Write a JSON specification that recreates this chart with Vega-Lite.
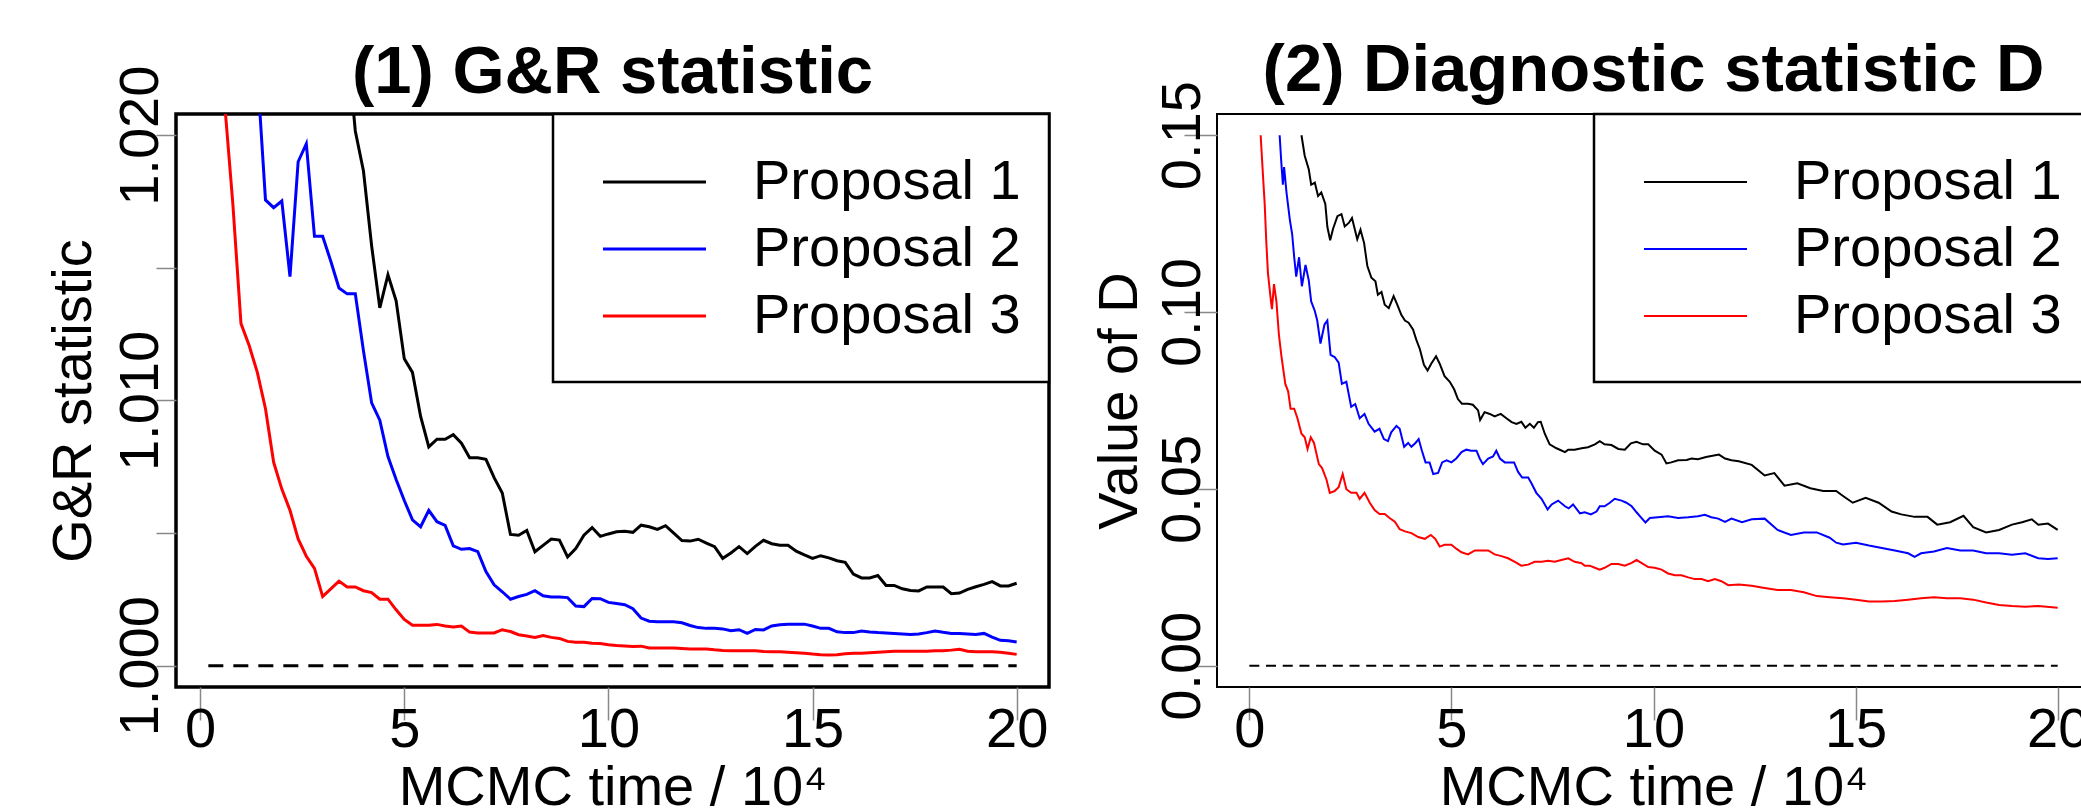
{
  "$schema": "https://vega.github.io/schema/vega-lite/v6.json",
  "background": "white",
  "autosize": {"type": "pad"},
  "padding": {"left": 43, "top": 35, "right": 0, "bottom": 0},
  "bounds": "flush",
  "spacing": 168,
  "config": {
    "font": "Liberation Sans",
    "axis": {
      "labelFont": "Liberation Sans", "titleFont": "Liberation Sans",
      "labelFontSize": 56, "titleFontSize": 56, "labelColor": "black", "titleColor": "black",
      "titleFontWeight": "normal", "grid": false, "domain": false,
      "tickColor": "#888888", "tickWidth": 1.5,
      "labelFlush": false, "labelOverlap": false, "labelBound": false
    },
    "legend": {"strokeWidth": 2.5},
    "title": {"font": "Liberation Sans", "fontSize": 67, "fontWeight": "bold", "color": "black", "anchor": "middle", "frame": "group", "baseline": "alphabetic"}
  },
  "datasets": {
    "refL": [{"t0": 0.2, "t1": 20, "v": 1.0}],
    "refR": [{"t0": 0, "t1": 20, "v": 0}],
    "gr": [
      {"s":"Proposal 1","t":3.6,"v":1.0235},{"s":"Proposal 1","t":3.8,"v":1.02016},{"s":"Proposal 1","t":4.0,"v":1.01865},{"s":"Proposal 1","t":4.2,"v":1.01583},{"s":"Proposal 1","t":4.4,"v":1.01349},{"s":"Proposal 1","t":4.6,"v":1.01474},{"s":"Proposal 1","t":4.8,"v":1.01376},{"s":"Proposal 1","t":5.0,"v":1.01157},{"s":"Proposal 1","t":5.2,"v":1.01106},{"s":"Proposal 1","t":5.4,"v":1.0094},{"s":"Proposal 1","t":5.6,"v":1.00825},{"s":"Proposal 1","t":5.8,"v":1.00854},{"s":"Proposal 1","t":6.0,"v":1.00854},{"s":"Proposal 1","t":6.2,"v":1.00871},{"s":"Proposal 1","t":6.4,"v":1.00839},{"s":"Proposal 1","t":6.6,"v":1.00784},{"s":"Proposal 1","t":6.8,"v":1.00784},{"s":"Proposal 1","t":7.0,"v":1.00778},{"s":"Proposal 1","t":7.2,"v":1.00709},{"s":"Proposal 1","t":7.4,"v":1.00651},{"s":"Proposal 1","t":7.6,"v":1.00495},{"s":"Proposal 1","t":7.8,"v":1.00492},{"s":"Proposal 1","t":8.0,"v":1.0051},{"s":"Proposal 1","t":8.2,"v":1.0043},{"s":"Proposal 1","t":8.4,"v":1.00454},{"s":"Proposal 1","t":8.6,"v":1.00478},{"s":"Proposal 1","t":8.8,"v":1.00474},{"s":"Proposal 1","t":9.0,"v":1.0041},{"s":"Proposal 1","t":9.2,"v":1.00442},{"s":"Proposal 1","t":9.4,"v":1.00492},{"s":"Proposal 1","t":9.6,"v":1.00521},{"s":"Proposal 1","t":9.8,"v":1.00488},{"s":"Proposal 1","t":10.0,"v":1.00497},{"s":"Proposal 1","t":10.2,"v":1.00505},{"s":"Proposal 1","t":10.4,"v":1.00507},{"s":"Proposal 1","t":10.6,"v":1.00503},{"s":"Proposal 1","t":10.8,"v":1.0053},{"s":"Proposal 1","t":11.0,"v":1.00524},{"s":"Proposal 1","t":11.2,"v":1.00514},{"s":"Proposal 1","t":11.4,"v":1.00528},{"s":"Proposal 1","t":11.6,"v":1.005},{"s":"Proposal 1","t":11.8,"v":1.00472},{"s":"Proposal 1","t":12.0,"v":1.0047},{"s":"Proposal 1","t":12.2,"v":1.00477},{"s":"Proposal 1","t":12.4,"v":1.00462},{"s":"Proposal 1","t":12.6,"v":1.00449},{"s":"Proposal 1","t":12.8,"v":1.00405},{"s":"Proposal 1","t":13.0,"v":1.00425},{"s":"Proposal 1","t":13.2,"v":1.00449},{"s":"Proposal 1","t":13.4,"v":1.00423},{"s":"Proposal 1","t":13.6,"v":1.0045},{"s":"Proposal 1","t":13.8,"v":1.00473},{"s":"Proposal 1","t":14.0,"v":1.0046},{"s":"Proposal 1","t":14.2,"v":1.00454},{"s":"Proposal 1","t":14.4,"v":1.00454},{"s":"Proposal 1","t":14.6,"v":1.00432},{"s":"Proposal 1","t":14.8,"v":1.00418},{"s":"Proposal 1","t":15.0,"v":1.00405},{"s":"Proposal 1","t":15.2,"v":1.00415},{"s":"Proposal 1","t":15.4,"v":1.00407},{"s":"Proposal 1","t":15.6,"v":1.00396},{"s":"Proposal 1","t":15.8,"v":1.0039},{"s":"Proposal 1","t":16.0,"v":1.00346},{"s":"Proposal 1","t":16.2,"v":1.00331},{"s":"Proposal 1","t":16.4,"v":1.00331},{"s":"Proposal 1","t":16.6,"v":1.0034},{"s":"Proposal 1","t":16.8,"v":1.00303},{"s":"Proposal 1","t":17.0,"v":1.00303},{"s":"Proposal 1","t":17.2,"v":1.0029},{"s":"Proposal 1","t":17.4,"v":1.00284},{"s":"Proposal 1","t":17.6,"v":1.00282},{"s":"Proposal 1","t":17.8,"v":1.00297},{"s":"Proposal 1","t":18.0,"v":1.00297},{"s":"Proposal 1","t":18.2,"v":1.00297},{"s":"Proposal 1","t":18.4,"v":1.00272},{"s":"Proposal 1","t":18.6,"v":1.00274},{"s":"Proposal 1","t":18.8,"v":1.00288},{"s":"Proposal 1","t":19.0,"v":1.00298},{"s":"Proposal 1","t":19.2,"v":1.00307},{"s":"Proposal 1","t":19.4,"v":1.00317},{"s":"Proposal 1","t":19.6,"v":1.00301},{"s":"Proposal 1","t":19.8,"v":1.00301},{"s":"Proposal 1","t":20.0,"v":1.00311},
      {"s":"Proposal 2","t":1.4,"v":1.0224},{"s":"Proposal 2","t":1.6,"v":1.01756},{"s":"Proposal 2","t":1.8,"v":1.01727},{"s":"Proposal 2","t":2.0,"v":1.01752},{"s":"Proposal 2","t":2.2,"v":1.01467},{"s":"Proposal 2","t":2.4,"v":1.019},{"s":"Proposal 2","t":2.6,"v":1.01968},{"s":"Proposal 2","t":2.8,"v":1.01619},{"s":"Proposal 2","t":3.0,"v":1.01619},{"s":"Proposal 2","t":3.2,"v":1.01525},{"s":"Proposal 2","t":3.4,"v":1.01424},{"s":"Proposal 2","t":3.6,"v":1.01402},{"s":"Proposal 2","t":3.8,"v":1.01402},{"s":"Proposal 2","t":4.0,"v":1.01187},{"s":"Proposal 2","t":4.2,"v":1.00991},{"s":"Proposal 2","t":4.4,"v":1.00926},{"s":"Proposal 2","t":4.6,"v":1.00789},{"s":"Proposal 2","t":4.8,"v":1.00702},{"s":"Proposal 2","t":5.0,"v":1.00623},{"s":"Proposal 2","t":5.2,"v":1.0055},{"s":"Proposal 2","t":5.4,"v":1.00524},{"s":"Proposal 2","t":5.6,"v":1.00586},{"s":"Proposal 2","t":5.8,"v":1.00543},{"s":"Proposal 2","t":6.0,"v":1.00529},{"s":"Proposal 2","t":6.2,"v":1.00452},{"s":"Proposal 2","t":6.4,"v":1.00439},{"s":"Proposal 2","t":6.6,"v":1.00442},{"s":"Proposal 2","t":6.8,"v":1.0043},{"s":"Proposal 2","t":7.0,"v":1.00355},{"s":"Proposal 2","t":7.2,"v":1.00305},{"s":"Proposal 2","t":7.4,"v":1.00279},{"s":"Proposal 2","t":7.6,"v":1.00251},{"s":"Proposal 2","t":7.8,"v":1.00261},{"s":"Proposal 2","t":8.0,"v":1.00269},{"s":"Proposal 2","t":8.2,"v":1.00283},{"s":"Proposal 2","t":8.4,"v":1.00264},{"s":"Proposal 2","t":8.6,"v":1.00259},{"s":"Proposal 2","t":8.8,"v":1.00259},{"s":"Proposal 2","t":9.0,"v":1.00257},{"s":"Proposal 2","t":9.2,"v":1.00225},{"s":"Proposal 2","t":9.4,"v":1.00223},{"s":"Proposal 2","t":9.6,"v":1.00254},{"s":"Proposal 2","t":9.8,"v":1.00253},{"s":"Proposal 2","t":10.0,"v":1.00239},{"s":"Proposal 2","t":10.2,"v":1.00235},{"s":"Proposal 2","t":10.4,"v":1.0023},{"s":"Proposal 2","t":10.6,"v":1.00215},{"s":"Proposal 2","t":10.8,"v":1.0018},{"s":"Proposal 2","t":11.0,"v":1.00168},{"s":"Proposal 2","t":11.2,"v":1.00166},{"s":"Proposal 2","t":11.4,"v":1.00166},{"s":"Proposal 2","t":11.6,"v":1.00166},{"s":"Proposal 2","t":11.8,"v":1.00162},{"s":"Proposal 2","t":12.0,"v":1.00152},{"s":"Proposal 2","t":12.2,"v":1.00144},{"s":"Proposal 2","t":12.4,"v":1.00141},{"s":"Proposal 2","t":12.6,"v":1.00141},{"s":"Proposal 2","t":12.8,"v":1.00139},{"s":"Proposal 2","t":13.0,"v":1.00132},{"s":"Proposal 2","t":13.2,"v":1.00136},{"s":"Proposal 2","t":13.4,"v":1.00122},{"s":"Proposal 2","t":13.6,"v":1.00137},{"s":"Proposal 2","t":13.8,"v":1.00135},{"s":"Proposal 2","t":14.0,"v":1.0015},{"s":"Proposal 2","t":14.2,"v":1.00155},{"s":"Proposal 2","t":14.4,"v":1.00157},{"s":"Proposal 2","t":14.6,"v":1.00157},{"s":"Proposal 2","t":14.8,"v":1.00157},{"s":"Proposal 2","t":15.0,"v":1.0015},{"s":"Proposal 2","t":15.2,"v":1.00141},{"s":"Proposal 2","t":15.4,"v":1.00141},{"s":"Proposal 2","t":15.6,"v":1.00128},{"s":"Proposal 2","t":15.8,"v":1.00125},{"s":"Proposal 2","t":16.0,"v":1.00125},{"s":"Proposal 2","t":16.2,"v":1.00131},{"s":"Proposal 2","t":16.4,"v":1.00127},{"s":"Proposal 2","t":16.6,"v":1.00125},{"s":"Proposal 2","t":16.8,"v":1.00124},{"s":"Proposal 2","t":17.0,"v":1.00122},{"s":"Proposal 2","t":17.2,"v":1.0012},{"s":"Proposal 2","t":17.4,"v":1.00118},{"s":"Proposal 2","t":17.6,"v":1.0012},{"s":"Proposal 2","t":17.8,"v":1.00125},{"s":"Proposal 2","t":18.0,"v":1.00131},{"s":"Proposal 2","t":18.2,"v":1.00126},{"s":"Proposal 2","t":18.4,"v":1.00122},{"s":"Proposal 2","t":18.6,"v":1.00122},{"s":"Proposal 2","t":18.8,"v":1.0012},{"s":"Proposal 2","t":19.0,"v":1.00118},{"s":"Proposal 2","t":19.2,"v":1.00122},{"s":"Proposal 2","t":19.4,"v":1.00108},{"s":"Proposal 2","t":19.6,"v":1.00096},{"s":"Proposal 2","t":19.8,"v":1.00094},{"s":"Proposal 2","t":20.0,"v":1.0009},
      {"s":"Proposal 3","t":0.4,"v":1.0242},{"s":"Proposal 3","t":0.6,"v":1.0212},{"s":"Proposal 3","t":0.8,"v":1.01742},{"s":"Proposal 3","t":1.0,"v":1.0129},{"s":"Proposal 3","t":1.2,"v":1.01207},{"s":"Proposal 3","t":1.4,"v":1.01106},{"s":"Proposal 3","t":1.6,"v":1.00969},{"s":"Proposal 3","t":1.8,"v":1.00767},{"s":"Proposal 3","t":2.0,"v":1.00666},{"s":"Proposal 3","t":2.2,"v":1.00586},{"s":"Proposal 3","t":2.4,"v":1.00478},{"s":"Proposal 3","t":2.6,"v":1.00413},{"s":"Proposal 3","t":2.8,"v":1.00367},{"s":"Proposal 3","t":3.0,"v":1.00261},{"s":"Proposal 3","t":3.2,"v":1.0029},{"s":"Proposal 3","t":3.4,"v":1.00319},{"s":"Proposal 3","t":3.6,"v":1.00297},{"s":"Proposal 3","t":3.8,"v":1.00297},{"s":"Proposal 3","t":4.0,"v":1.00283},{"s":"Proposal 3","t":4.2,"v":1.00276},{"s":"Proposal 3","t":4.4,"v":1.00251},{"s":"Proposal 3","t":4.6,"v":1.00251},{"s":"Proposal 3","t":4.8,"v":1.00211},{"s":"Proposal 3","t":5.0,"v":1.00175},{"s":"Proposal 3","t":5.2,"v":1.00153},{"s":"Proposal 3","t":5.4,"v":1.00153},{"s":"Proposal 3","t":5.6,"v":1.00153},{"s":"Proposal 3","t":5.8,"v":1.00156},{"s":"Proposal 3","t":6.0,"v":1.0015},{"s":"Proposal 3","t":6.2,"v":1.00146},{"s":"Proposal 3","t":6.4,"v":1.0015},{"s":"Proposal 3","t":6.6,"v":1.00127},{"s":"Proposal 3","t":6.8,"v":1.00124},{"s":"Proposal 3","t":7.0,"v":1.00124},{"s":"Proposal 3","t":7.2,"v":1.00124},{"s":"Proposal 3","t":7.4,"v":1.00136},{"s":"Proposal 3","t":7.6,"v":1.00129},{"s":"Proposal 3","t":7.8,"v":1.00117},{"s":"Proposal 3","t":8.0,"v":1.00112},{"s":"Proposal 3","t":8.2,"v":1.00107},{"s":"Proposal 3","t":8.4,"v":1.00114},{"s":"Proposal 3","t":8.6,"v":1.00107},{"s":"Proposal 3","t":8.8,"v":1.00103},{"s":"Proposal 3","t":9.0,"v":1.00092},{"s":"Proposal 3","t":9.2,"v":1.00089},{"s":"Proposal 3","t":9.4,"v":1.00089},{"s":"Proposal 3","t":9.6,"v":1.00085},{"s":"Proposal 3","t":9.8,"v":1.00084},{"s":"Proposal 3","t":10.0,"v":1.00079},{"s":"Proposal 3","t":10.2,"v":1.00076},{"s":"Proposal 3","t":10.4,"v":1.00075},{"s":"Proposal 3","t":10.6,"v":1.00073},{"s":"Proposal 3","t":10.8,"v":1.00074},{"s":"Proposal 3","t":11.0,"v":1.00067},{"s":"Proposal 3","t":11.2,"v":1.00067},{"s":"Proposal 3","t":11.4,"v":1.00067},{"s":"Proposal 3","t":11.6,"v":1.00067},{"s":"Proposal 3","t":11.8,"v":1.00065},{"s":"Proposal 3","t":12.0,"v":1.00063},{"s":"Proposal 3","t":12.2,"v":1.00063},{"s":"Proposal 3","t":12.4,"v":1.00063},{"s":"Proposal 3","t":12.6,"v":1.0006},{"s":"Proposal 3","t":12.8,"v":1.00058},{"s":"Proposal 3","t":13.0,"v":1.00057},{"s":"Proposal 3","t":13.2,"v":1.00057},{"s":"Proposal 3","t":13.4,"v":1.00057},{"s":"Proposal 3","t":13.6,"v":1.00057},{"s":"Proposal 3","t":13.8,"v":1.00054},{"s":"Proposal 3","t":14.0,"v":1.00053},{"s":"Proposal 3","t":14.2,"v":1.00053},{"s":"Proposal 3","t":14.4,"v":1.00051},{"s":"Proposal 3","t":14.6,"v":1.00049},{"s":"Proposal 3","t":14.8,"v":1.00047},{"s":"Proposal 3","t":15.0,"v":1.00044},{"s":"Proposal 3","t":15.2,"v":1.00042},{"s":"Proposal 3","t":15.4,"v":1.00041},{"s":"Proposal 3","t":15.6,"v":1.00042},{"s":"Proposal 3","t":15.8,"v":1.00045},{"s":"Proposal 3","t":16.0,"v":1.00047},{"s":"Proposal 3","t":16.2,"v":1.00047},{"s":"Proposal 3","t":16.4,"v":1.00049},{"s":"Proposal 3","t":16.6,"v":1.00051},{"s":"Proposal 3","t":16.8,"v":1.00053},{"s":"Proposal 3","t":17.0,"v":1.00055},{"s":"Proposal 3","t":17.2,"v":1.00055},{"s":"Proposal 3","t":17.4,"v":1.00055},{"s":"Proposal 3","t":17.6,"v":1.00055},{"s":"Proposal 3","t":17.8,"v":1.00055},{"s":"Proposal 3","t":18.0,"v":1.00057},{"s":"Proposal 3","t":18.2,"v":1.00057},{"s":"Proposal 3","t":18.4,"v":1.00059},{"s":"Proposal 3","t":18.6,"v":1.00062},{"s":"Proposal 3","t":18.8,"v":1.00055},{"s":"Proposal 3","t":19.0,"v":1.00053},{"s":"Proposal 3","t":19.2,"v":1.00053},{"s":"Proposal 3","t":19.4,"v":1.00053},{"s":"Proposal 3","t":19.6,"v":1.00051},{"s":"Proposal 3","t":19.8,"v":1.00047},{"s":"Proposal 3","t":20.0,"v":1.00043}
    ],
    "dd": [
      {"s":"Proposal 1","t":1.29,"v":0.15},{"s":"Proposal 1","t":1.37,"v":0.1442},{"s":"Proposal 1","t":1.47,"v":0.1404},{"s":"Proposal 1","t":1.53,"v":0.136},{"s":"Proposal 1","t":1.62,"v":0.1366},{"s":"Proposal 1","t":1.7,"v":0.1328},{"s":"Proposal 1","t":1.78,"v":0.1338},{"s":"Proposal 1","t":1.88,"v":0.1306},{"s":"Proposal 1","t":1.93,"v":0.1241},{"s":"Proposal 1","t":2.0,"v":0.1203},{"s":"Proposal 1","t":2.07,"v":0.1235},{"s":"Proposal 1","t":2.18,"v":0.1271},{"s":"Proposal 1","t":2.28,"v":0.1277},{"s":"Proposal 1","t":2.36,"v":0.1242},{"s":"Proposal 1","t":2.46,"v":0.1252},{"s":"Proposal 1","t":2.54,"v":0.1266},{"s":"Proposal 1","t":2.67,"v":0.1206},{"s":"Proposal 1","t":2.75,"v":0.1233},{"s":"Proposal 1","t":2.84,"v":0.1195},{"s":"Proposal 1","t":2.92,"v":0.113},{"s":"Proposal 1","t":3.02,"v":0.1097},{"s":"Proposal 1","t":3.12,"v":0.1087},{"s":"Proposal 1","t":3.18,"v":0.1049},{"s":"Proposal 1","t":3.27,"v":0.1057},{"s":"Proposal 1","t":3.35,"v":0.1021},{"s":"Proposal 1","t":3.45,"v":0.1011},{"s":"Proposal 1","t":3.57,"v":0.1045},{"s":"Proposal 1","t":3.66,"v":0.1021},{"s":"Proposal 1","t":3.76,"v":0.0992},{"s":"Proposal 1","t":3.85,"v":0.0976},{"s":"Proposal 1","t":3.94,"v":0.097},{"s":"Proposal 1","t":4.05,"v":0.0951},{"s":"Proposal 1","t":4.13,"v":0.0922},{"s":"Proposal 1","t":4.22,"v":0.0895},{"s":"Proposal 1","t":4.32,"v":0.0851},{"s":"Proposal 1","t":4.41,"v":0.0835},{"s":"Proposal 1","t":4.5,"v":0.0854},{"s":"Proposal 1","t":4.62,"v":0.0875},{"s":"Proposal 1","t":4.71,"v":0.0854},{"s":"Proposal 1","t":4.83,"v":0.0819},{"s":"Proposal 1","t":4.96,"v":0.0803},{"s":"Proposal 1","t":5.07,"v":0.0781},{"s":"Proposal 1","t":5.16,"v":0.0754},{"s":"Proposal 1","t":5.26,"v":0.0741},{"s":"Proposal 1","t":5.41,"v":0.0741},{"s":"Proposal 1","t":5.53,"v":0.0738},{"s":"Proposal 1","t":5.66,"v":0.0722},{"s":"Proposal 1","t":5.71,"v":0.0695},{"s":"Proposal 1","t":5.82,"v":0.0717},{"s":"Proposal 1","t":5.95,"v":0.0712},{"s":"Proposal 1","t":6.07,"v":0.0705},{"s":"Proposal 1","t":6.22,"v":0.0712},{"s":"Proposal 1","t":6.36,"v":0.07},{"s":"Proposal 1","t":6.49,"v":0.0689},{"s":"Proposal 1","t":6.61,"v":0.0684},{"s":"Proposal 1","t":6.73,"v":0.069},{"s":"Proposal 1","t":6.83,"v":0.0673},{"s":"Proposal 1","t":6.94,"v":0.0684},{"s":"Proposal 1","t":7.04,"v":0.0673},{"s":"Proposal 1","t":7.14,"v":0.0689},{"s":"Proposal 1","t":7.21,"v":0.069},{"s":"Proposal 1","t":7.31,"v":0.0656},{"s":"Proposal 1","t":7.43,"v":0.0626},{"s":"Proposal 1","t":7.6,"v":0.0615},{"s":"Proposal 1","t":7.81,"v":0.0604},{"s":"Proposal 1","t":7.89,"v":0.0611},{"s":"Proposal 1","t":8.05,"v":0.0611},{"s":"Proposal 1","t":8.22,"v":0.0615},{"s":"Proposal 1","t":8.38,"v":0.0618},{"s":"Proposal 1","t":8.55,"v":0.0626},{"s":"Proposal 1","t":8.67,"v":0.0635},{"s":"Proposal 1","t":8.79,"v":0.0626},{"s":"Proposal 1","t":8.96,"v":0.0624},{"s":"Proposal 1","t":9.13,"v":0.0613},{"s":"Proposal 1","t":9.29,"v":0.0611},{"s":"Proposal 1","t":9.44,"v":0.0629},{"s":"Proposal 1","t":9.58,"v":0.0633},{"s":"Proposal 1","t":9.74,"v":0.0626},{"s":"Proposal 1","t":9.87,"v":0.0626},{"s":"Proposal 1","t":10.03,"v":0.0608},{"s":"Proposal 1","t":10.2,"v":0.0597},{"s":"Proposal 1","t":10.32,"v":0.0572},{"s":"Proposal 1","t":10.44,"v":0.0575},{"s":"Proposal 1","t":10.61,"v":0.0581},{"s":"Proposal 1","t":10.82,"v":0.0582},{"s":"Proposal 1","t":10.94,"v":0.0586},{"s":"Proposal 1","t":11.1,"v":0.0584},{"s":"Proposal 1","t":11.3,"v":0.059},{"s":"Proposal 1","t":11.62,"v":0.0597},{"s":"Proposal 1","t":11.77,"v":0.0586},{"s":"Proposal 1","t":11.93,"v":0.0581},{"s":"Proposal 1","t":12.11,"v":0.0578},{"s":"Proposal 1","t":12.43,"v":0.0568},{"s":"Proposal 1","t":12.75,"v":0.0538},{"s":"Proposal 1","t":12.99,"v":0.0545},{"s":"Proposal 1","t":13.24,"v":0.0509},{"s":"Proposal 1","t":13.56,"v":0.0516},{"s":"Proposal 1","t":13.88,"v":0.0502},{"s":"Proposal 1","t":14.2,"v":0.0494},{"s":"Proposal 1","t":14.52,"v":0.0494},{"s":"Proposal 1","t":14.69,"v":0.048},{"s":"Proposal 1","t":14.93,"v":0.0461},{"s":"Proposal 1","t":15.25,"v":0.0475},{"s":"Proposal 1","t":15.57,"v":0.0461},{"s":"Proposal 1","t":15.89,"v":0.0436},{"s":"Proposal 1","t":16.13,"v":0.0428},{"s":"Proposal 1","t":16.46,"v":0.0421},{"s":"Proposal 1","t":16.78,"v":0.0421},{"s":"Proposal 1","t":17.02,"v":0.0399},{"s":"Proposal 1","t":17.34,"v":0.0406},{"s":"Proposal 1","t":17.67,"v":0.0424},{"s":"Proposal 1","t":17.91,"v":0.0392},{"s":"Proposal 1","t":18.23,"v":0.0377},{"s":"Proposal 1","t":18.55,"v":0.0384},{"s":"Proposal 1","t":18.87,"v":0.0399},{"s":"Proposal 1","t":19.12,"v":0.0406},{"s":"Proposal 1","t":19.36,"v":0.0414},{"s":"Proposal 1","t":19.52,"v":0.0399},{"s":"Proposal 1","t":19.76,"v":0.0402},{"s":"Proposal 1","t":20.0,"v":0.0384},
      {"s":"Proposal 2","t":0.75,"v":0.15},{"s":"Proposal 2","t":0.79,"v":0.1425},{"s":"Proposal 2","t":0.83,"v":0.136},{"s":"Proposal 2","t":0.86,"v":0.141},{"s":"Proposal 2","t":0.92,"v":0.1338},{"s":"Proposal 2","t":1.0,"v":0.1263},{"s":"Proposal 2","t":1.06,"v":0.122},{"s":"Proposal 2","t":1.11,"v":0.1155},{"s":"Proposal 2","t":1.16,"v":0.11},{"s":"Proposal 2","t":1.23,"v":0.1155},{"s":"Proposal 2","t":1.3,"v":0.1073},{"s":"Proposal 2","t":1.39,"v":0.1133},{"s":"Proposal 2","t":1.47,"v":0.109},{"s":"Proposal 2","t":1.53,"v":0.103},{"s":"Proposal 2","t":1.62,"v":0.1003},{"s":"Proposal 2","t":1.68,"v":0.0976},{"s":"Proposal 2","t":1.76,"v":0.0911},{"s":"Proposal 2","t":1.86,"v":0.0965},{"s":"Proposal 2","t":1.93,"v":0.0976},{"s":"Proposal 2","t":2.01,"v":0.0879},{"s":"Proposal 2","t":2.11,"v":0.0873},{"s":"Proposal 2","t":2.21,"v":0.0857},{"s":"Proposal 2","t":2.29,"v":0.0797},{"s":"Proposal 2","t":2.4,"v":0.0803},{"s":"Proposal 2","t":2.52,"v":0.0732},{"s":"Proposal 2","t":2.62,"v":0.074},{"s":"Proposal 2","t":2.73,"v":0.07},{"s":"Proposal 2","t":2.85,"v":0.0712},{"s":"Proposal 2","t":2.95,"v":0.0684},{"s":"Proposal 2","t":3.1,"v":0.0662},{"s":"Proposal 2","t":3.22,"v":0.067},{"s":"Proposal 2","t":3.33,"v":0.0641},{"s":"Proposal 2","t":3.43,"v":0.0635},{"s":"Proposal 2","t":3.51,"v":0.066},{"s":"Proposal 2","t":3.64,"v":0.0678},{"s":"Proposal 2","t":3.72,"v":0.067},{"s":"Proposal 2","t":3.83,"v":0.0619},{"s":"Proposal 2","t":3.93,"v":0.063},{"s":"Proposal 2","t":4.01,"v":0.0619},{"s":"Proposal 2","t":4.11,"v":0.063},{"s":"Proposal 2","t":4.19,"v":0.0641},{"s":"Proposal 2","t":4.27,"v":0.0608},{"s":"Proposal 2","t":4.36,"v":0.0575},{"s":"Proposal 2","t":4.46,"v":0.0575},{"s":"Proposal 2","t":4.55,"v":0.0542},{"s":"Proposal 2","t":4.67,"v":0.0545},{"s":"Proposal 2","t":4.77,"v":0.0575},{"s":"Proposal 2","t":4.88,"v":0.0581},{"s":"Proposal 2","t":5.0,"v":0.0575},{"s":"Proposal 2","t":5.12,"v":0.0586},{"s":"Proposal 2","t":5.25,"v":0.0604},{"s":"Proposal 2","t":5.37,"v":0.0611},{"s":"Proposal 2","t":5.49,"v":0.0608},{"s":"Proposal 2","t":5.62,"v":0.0608},{"s":"Proposal 2","t":5.7,"v":0.0586},{"s":"Proposal 2","t":5.78,"v":0.057},{"s":"Proposal 2","t":5.91,"v":0.0586},{"s":"Proposal 2","t":6.03,"v":0.0592},{"s":"Proposal 2","t":6.11,"v":0.0608},{"s":"Proposal 2","t":6.2,"v":0.0586},{"s":"Proposal 2","t":6.32,"v":0.0575},{"s":"Proposal 2","t":6.44,"v":0.0575},{"s":"Proposal 2","t":6.55,"v":0.0575},{"s":"Proposal 2","t":6.65,"v":0.0548},{"s":"Proposal 2","t":6.75,"v":0.0532},{"s":"Proposal 2","t":6.9,"v":0.0532},{"s":"Proposal 2","t":6.98,"v":0.0516},{"s":"Proposal 2","t":7.1,"v":0.0489},{"s":"Proposal 2","t":7.23,"v":0.0472},{"s":"Proposal 2","t":7.38,"v":0.0442},{"s":"Proposal 2","t":7.48,"v":0.0456},{"s":"Proposal 2","t":7.64,"v":0.0467},{"s":"Proposal 2","t":7.81,"v":0.0451},{"s":"Proposal 2","t":7.9,"v":0.0445},{"s":"Proposal 2","t":8.01,"v":0.0456},{"s":"Proposal 2","t":8.18,"v":0.0431},{"s":"Proposal 2","t":8.3,"v":0.0434},{"s":"Proposal 2","t":8.45,"v":0.0428},{"s":"Proposal 2","t":8.59,"v":0.0436},{"s":"Proposal 2","t":8.67,"v":0.0451},{"s":"Proposal 2","t":8.79,"v":0.0451},{"s":"Proposal 2","t":8.92,"v":0.0461},{"s":"Proposal 2","t":9.04,"v":0.0472},{"s":"Proposal 2","t":9.21,"v":0.0467},{"s":"Proposal 2","t":9.33,"v":0.0461},{"s":"Proposal 2","t":9.46,"v":0.0451},{"s":"Proposal 2","t":9.58,"v":0.0434},{"s":"Proposal 2","t":9.7,"v":0.0418},{"s":"Proposal 2","t":9.8,"v":0.0405},{"s":"Proposal 2","t":9.91,"v":0.0418},{"s":"Proposal 2","t":10.11,"v":0.042},{"s":"Proposal 2","t":10.36,"v":0.0423},{"s":"Proposal 2","t":10.61,"v":0.0418},{"s":"Proposal 2","t":10.86,"v":0.042},{"s":"Proposal 2","t":11.1,"v":0.0423},{"s":"Proposal 2","t":11.27,"v":0.0427},{"s":"Proposal 2","t":11.43,"v":0.042},{"s":"Proposal 2","t":11.6,"v":0.0416},{"s":"Proposal 2","t":11.77,"v":0.0407},{"s":"Proposal 2","t":11.93,"v":0.0416},{"s":"Proposal 2","t":12.19,"v":0.0406},{"s":"Proposal 2","t":12.43,"v":0.0414},{"s":"Proposal 2","t":12.75,"v":0.0416},{"s":"Proposal 2","t":13.07,"v":0.0384},{"s":"Proposal 2","t":13.4,"v":0.037},{"s":"Proposal 2","t":13.72,"v":0.0377},{"s":"Proposal 2","t":14.04,"v":0.0377},{"s":"Proposal 2","t":14.36,"v":0.0362},{"s":"Proposal 2","t":14.52,"v":0.0348},{"s":"Proposal 2","t":14.69,"v":0.0343},{"s":"Proposal 2","t":15.01,"v":0.0348},{"s":"Proposal 2","t":15.33,"v":0.034},{"s":"Proposal 2","t":15.65,"v":0.0333},{"s":"Proposal 2","t":15.97,"v":0.0326},{"s":"Proposal 2","t":16.3,"v":0.0318},{"s":"Proposal 2","t":16.46,"v":0.0308},{"s":"Proposal 2","t":16.62,"v":0.0318},{"s":"Proposal 2","t":16.94,"v":0.0323},{"s":"Proposal 2","t":17.26,"v":0.0333},{"s":"Proposal 2","t":17.59,"v":0.0326},{"s":"Proposal 2","t":17.91,"v":0.0326},{"s":"Proposal 2","t":18.23,"v":0.0318},{"s":"Proposal 2","t":18.55,"v":0.0318},{"s":"Proposal 2","t":18.87,"v":0.0314},{"s":"Proposal 2","t":19.2,"v":0.0318},{"s":"Proposal 2","t":19.52,"v":0.0304},{"s":"Proposal 2","t":19.76,"v":0.0302},{"s":"Proposal 2","t":20.0,"v":0.0304},
      {"s":"Proposal 3","t":0.28,"v":0.15},{"s":"Proposal 3","t":0.34,"v":0.1382},{"s":"Proposal 3","t":0.38,"v":0.1306},{"s":"Proposal 3","t":0.42,"v":0.1198},{"s":"Proposal 3","t":0.46,"v":0.1111},{"s":"Proposal 3","t":0.53,"v":0.1036},{"s":"Proposal 3","t":0.56,"v":0.1008},{"s":"Proposal 3","t":0.61,"v":0.1079},{"s":"Proposal 3","t":0.67,"v":0.103},{"s":"Proposal 3","t":0.73,"v":0.0938},{"s":"Proposal 3","t":0.79,"v":0.0879},{"s":"Proposal 3","t":0.83,"v":0.0846},{"s":"Proposal 3","t":0.89,"v":0.0797},{"s":"Proposal 3","t":0.96,"v":0.0776},{"s":"Proposal 3","t":1.02,"v":0.0727},{"s":"Proposal 3","t":1.11,"v":0.0727},{"s":"Proposal 3","t":1.19,"v":0.07},{"s":"Proposal 3","t":1.29,"v":0.0656},{"s":"Proposal 3","t":1.37,"v":0.0646},{"s":"Proposal 3","t":1.44,"v":0.0613},{"s":"Proposal 3","t":1.52,"v":0.0646},{"s":"Proposal 3","t":1.6,"v":0.063},{"s":"Proposal 3","t":1.72,"v":0.057},{"s":"Proposal 3","t":1.8,"v":0.0559},{"s":"Proposal 3","t":1.91,"v":0.0526},{"s":"Proposal 3","t":1.99,"v":0.0489},{"s":"Proposal 3","t":2.11,"v":0.0494},{"s":"Proposal 3","t":2.21,"v":0.0505},{"s":"Proposal 3","t":2.31,"v":0.0542},{"s":"Proposal 3","t":2.4,"v":0.0499},{"s":"Proposal 3","t":2.52,"v":0.0489},{"s":"Proposal 3","t":2.65,"v":0.0489},{"s":"Proposal 3","t":2.73,"v":0.0472},{"s":"Proposal 3","t":2.85,"v":0.0489},{"s":"Proposal 3","t":2.98,"v":0.0461},{"s":"Proposal 3","t":3.1,"v":0.044},{"s":"Proposal 3","t":3.22,"v":0.0429},{"s":"Proposal 3","t":3.35,"v":0.0429},{"s":"Proposal 3","t":3.47,"v":0.0418},{"s":"Proposal 3","t":3.6,"v":0.0407},{"s":"Proposal 3","t":3.72,"v":0.0386},{"s":"Proposal 3","t":3.85,"v":0.038},{"s":"Proposal 3","t":4.01,"v":0.0375},{"s":"Proposal 3","t":4.18,"v":0.0364},{"s":"Proposal 3","t":4.34,"v":0.0359},{"s":"Proposal 3","t":4.49,"v":0.037},{"s":"Proposal 3","t":4.6,"v":0.0359},{"s":"Proposal 3","t":4.71,"v":0.0337},{"s":"Proposal 3","t":4.83,"v":0.0342},{"s":"Proposal 3","t":5.0,"v":0.0342},{"s":"Proposal 3","t":5.12,"v":0.0331},{"s":"Proposal 3","t":5.25,"v":0.0321},{"s":"Proposal 3","t":5.41,"v":0.0315},{"s":"Proposal 3","t":5.58,"v":0.0326},{"s":"Proposal 3","t":5.74,"v":0.0326},{"s":"Proposal 3","t":5.91,"v":0.0326},{"s":"Proposal 3","t":6.07,"v":0.0315},{"s":"Proposal 3","t":6.24,"v":0.031},{"s":"Proposal 3","t":6.4,"v":0.0304},{"s":"Proposal 3","t":6.57,"v":0.0294},{"s":"Proposal 3","t":6.73,"v":0.0283},{"s":"Proposal 3","t":6.9,"v":0.0286},{"s":"Proposal 3","t":7.06,"v":0.0294},{"s":"Proposal 3","t":7.23,"v":0.0294},{"s":"Proposal 3","t":7.39,"v":0.0297},{"s":"Proposal 3","t":7.56,"v":0.0294},{"s":"Proposal 3","t":7.72,"v":0.0299},{"s":"Proposal 3","t":7.89,"v":0.0304},{"s":"Proposal 3","t":8.05,"v":0.0294},{"s":"Proposal 3","t":8.22,"v":0.029},{"s":"Proposal 3","t":8.3,"v":0.0283},{"s":"Proposal 3","t":8.42,"v":0.0283},{"s":"Proposal 3","t":8.55,"v":0.0277},{"s":"Proposal 3","t":8.67,"v":0.0272},{"s":"Proposal 3","t":8.79,"v":0.0277},{"s":"Proposal 3","t":8.96,"v":0.0288},{"s":"Proposal 3","t":9.13,"v":0.0288},{"s":"Proposal 3","t":9.29,"v":0.0283},{"s":"Proposal 3","t":9.46,"v":0.0291},{"s":"Proposal 3","t":9.58,"v":0.0299},{"s":"Proposal 3","t":9.7,"v":0.0291},{"s":"Proposal 3","t":9.87,"v":0.0279},{"s":"Proposal 3","t":10.03,"v":0.0277},{"s":"Proposal 3","t":10.2,"v":0.0272},{"s":"Proposal 3","t":10.36,"v":0.0261},{"s":"Proposal 3","t":10.53,"v":0.0256},{"s":"Proposal 3","t":10.69,"v":0.0256},{"s":"Proposal 3","t":10.86,"v":0.025},{"s":"Proposal 3","t":11.02,"v":0.0245},{"s":"Proposal 3","t":11.19,"v":0.0245},{"s":"Proposal 3","t":11.35,"v":0.0239},{"s":"Proposal 3","t":11.52,"v":0.0245},{"s":"Proposal 3","t":11.68,"v":0.0239},{"s":"Proposal 3","t":11.85,"v":0.0228},{"s":"Proposal 3","t":12.11,"v":0.023},{"s":"Proposal 3","t":12.43,"v":0.0226},{"s":"Proposal 3","t":12.75,"v":0.022},{"s":"Proposal 3","t":13.07,"v":0.0214},{"s":"Proposal 3","t":13.4,"v":0.0214},{"s":"Proposal 3","t":13.72,"v":0.0208},{"s":"Proposal 3","t":14.04,"v":0.0197},{"s":"Proposal 3","t":14.36,"v":0.0194},{"s":"Proposal 3","t":14.69,"v":0.0191},{"s":"Proposal 3","t":15.01,"v":0.0187},{"s":"Proposal 3","t":15.33,"v":0.0182},{"s":"Proposal 3","t":15.65,"v":0.0182},{"s":"Proposal 3","t":15.97,"v":0.0183},{"s":"Proposal 3","t":16.3,"v":0.0187},{"s":"Proposal 3","t":16.62,"v":0.0191},{"s":"Proposal 3","t":16.94,"v":0.0194},{"s":"Proposal 3","t":17.26,"v":0.0191},{"s":"Proposal 3","t":17.59,"v":0.0191},{"s":"Proposal 3","t":17.91,"v":0.0187},{"s":"Proposal 3","t":18.23,"v":0.0179},{"s":"Proposal 3","t":18.55,"v":0.0172},{"s":"Proposal 3","t":18.87,"v":0.0169},{"s":"Proposal 3","t":19.2,"v":0.0167},{"s":"Proposal 3","t":19.52,"v":0.0169},{"s":"Proposal 3","t":20.0,"v":0.0164}
    ]
  },
  "resolve": {
    "scale": {"x": "independent", "y": "independent", "color": "independent"},
    "legend": {"color": "independent"}
  },
  "hconcat": [
    {
      "width": 873, "height": 573,
      "title": {"text": "(1) G&R statistic", "offset": -41.5},
      "view": {"stroke": "black", "strokeWidth": 3.5},
      "layer": [
        {
          "data": {"name": "refL"},
          "mark": {"type": "rule", "strokeDash": [15, 10], "strokeWidth": 3, "color": "black"},
          "encoding": {
            "x": {"field": "t0", "type": "quantitative"},
            "x2": {"field": "t1"},
            "y": {"field": "v", "type": "quantitative"}
          }
        },
        {
          "data": {"name": "gr"},
          "mark": {"type": "line", "strokeWidth": 3, "clip": true},
          "encoding": {
            "x": {"field": "t", "type": "quantitative",
              "scale": {"domain": [-0.592, 20.792], "nice": false, "zero": false},
              "axis": {"values": [0, 5, 10, 15, 20], "title": "MCMC time / 10⁴", "tickSize": 33, "labelPadding": 26, "labelBaseline": "alphabetic", "titleBaseline": "alphabetic", "titlePadding": 47}},
            "y": {"field": "v", "type": "quantitative",
              "scale": {"domain": [0.9992, 1.0208], "nice": false, "zero": false},
              "axis": {"values": [1, 1.005, 1.01, 1.015, 1.02], "format": ".3f",
                "labelExpr": "(abs(datum.value - 1.005) < 0.000001 || abs(datum.value - 1.015) < 0.000001) ? '' : datum.label",
                "labelAngle": -90, "labelAlign": "center", "labelBaseline": "alphabetic", "tickSize": 20, "labelPadding": -1,
                "title": "G&R statistic", "titleBaseline": "alphabetic", "titlePadding": 22}},
            "color": {"field": "s", "type": "nominal",
              "scale": {"domain": ["Proposal 1", "Proposal 2", "Proposal 3"], "range": ["#000000", "#0000FF", "#FF0000"]},
              "legend": {"orient": "top-right", "offset": 0, "title": " ", "titleFontSize": 1, "titlePadding": 10.5, "padding": 28, "rowPadding": 0,
                "symbolType": "M-1.907,0H1.907M0,1.18", "symbolSize": 2916, "symbolStrokeWidth": 3, "symbolOffset": 45,
                "labelOffset": 70, "labelFontSize": 56, "labelFont": "Liberation Sans", "labelColor": "black", "labelLimit": 1000,
                "strokeColor": "black", "fillColor": "white"}}
          }
        }
      ]
    },
    {
      "width": 873, "height": 573,
      "title": {"text": "(2) Diagnostic statistic D", "offset": -24},
      "view": {"stroke": "black", "strokeWidth": 2},
      "layer": [
        {
          "data": {"name": "refR"},
          "mark": {"type": "rule", "strokeDash": [10, 6.7], "strokeWidth": 2, "color": "black"},
          "encoding": {
            "x": {"field": "t0", "type": "quantitative"},
            "x2": {"field": "t1"},
            "y": {"field": "v", "type": "quantitative"}
          }
        },
        {
          "data": {"name": "dd"},
          "mark": {"type": "line", "strokeWidth": 2, "clip": true},
          "encoding": {
            "x": {"field": "t", "type": "quantitative",
              "scale": {"domain": [-0.8, 20.8], "nice": false, "zero": false},
              "axis": {"values": [0, 5, 10, 15, 20], "title": "MCMC time / 10⁴", "tickSize": 33, "labelPadding": 26, "labelBaseline": "alphabetic", "titleBaseline": "alphabetic", "titlePadding": 47}},
            "y": {"field": "v", "type": "quantitative",
              "scale": {"domain": [-0.006, 0.156], "nice": false, "zero": false},
              "axis": {"values": [0, 0.05, 0.1, 0.15], "format": ".2f",
                "labelAngle": -90, "labelAlign": "center", "labelBaseline": "alphabetic", "tickSize": 33, "labelPadding": -15,
                "title": "Value of D", "titleBaseline": "alphabetic", "titlePadding": 18}},
            "color": {"field": "s", "type": "nominal",
              "scale": {"domain": ["Proposal 1", "Proposal 2", "Proposal 3"], "range": ["#000000", "#0000FF", "#FF0000"]},
              "legend": {"orient": "top-right", "offset": 0, "title": " ", "titleFontSize": 1, "titlePadding": 10.5, "padding": 28, "rowPadding": 0,
                "symbolType": "M-1.8727,0H1.8727M0,1.236", "symbolSize": 3025, "symbolStrokeWidth": 2, "symbolOffset": 45,
                "labelOffset": 70, "labelFontSize": 56, "labelFont": "Liberation Sans", "labelColor": "black", "labelLimit": 1000,
                "strokeColor": "black", "fillColor": "white"}}
          }
        }
      ]
    }
  ]
}
